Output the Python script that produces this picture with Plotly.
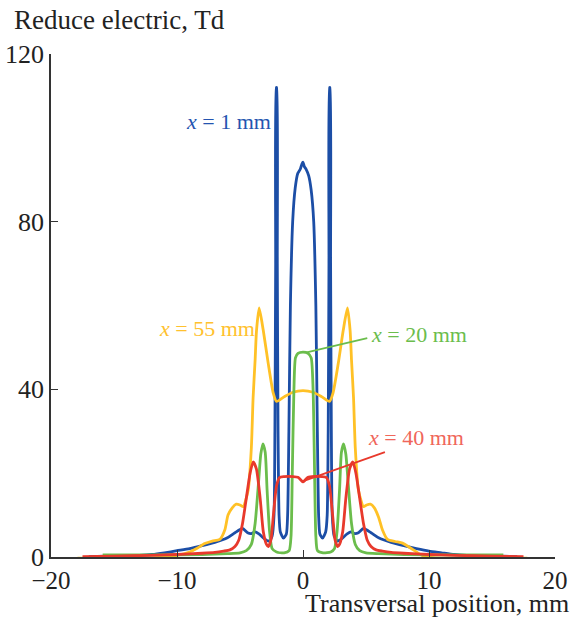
import plotly.graph_objects as go

# ---- data ----
x1 = [-17.0, -15.0, -13.0, -12.0, -11.0, -10.0, -9.0, -8.0, -7.0, -6.0, -5.4, -4.8, -4.4, -4.1, -3.8, -3.5,
      -3.0, -2.7, -2.45, -2.3, -2.23, -2.17, -2.12, -2.09, -2.04, -1.98, -1.9, -1.8, -1.55, -1.32, -1.22,
      -1.12, -1.0, -0.82, -0.62, -0.42, -0.22, -0.08, 0.0, 0.1, 0.25, 0.45, 0.65, 0.85, 1.02, 1.14, 1.24,
      1.34, 1.55, 1.8, 1.92, 2.0, 2.06, 2.11, 2.14, 2.19, 2.25, 2.32, 2.47, 2.75, 3.0, 3.5, 3.8, 4.1, 4.4,
      4.8, 5.4, 6.0, 7.0, 8.0, 9.0, 10.0, 11.0, 12.0, 13.0, 15.0, 17.0]
y1 = [0.1, 0.25, 0.4, 0.6, 1.0, 1.5, 2.0, 2.7, 3.5, 4.6, 5.8, 6.8, 5.8, 5.6, 6.0, 5.5,
      4.2, 3.8, 5.0, 10.0, 30.0, 70.0, 112.0, 112.0, 70.0, 30.0, 10.0, 6.0, 4.5, 5.5, 10.0,
      30.0, 60.0, 80.0, 88.0, 91.5, 92.5, 93.8, 94.2, 93.2, 92.5, 91.0, 87.5, 80.0, 60.0, 30.0, 10.0,
      5.5, 4.5, 6.0, 10.0, 30.0, 70.0, 112.0, 112.0, 70.0, 30.0, 10.0, 5.0, 3.8, 4.2, 5.5, 6.0, 5.6, 5.8,
      6.8, 5.8, 4.6, 3.5, 2.7, 2.0, 1.4, 1.0, 0.6, 0.4, 0.25, 0.1]

x20 = [-15.9, -12.0, -8.0, -6.0, -5.0, -4.5, -4.1, -3.8, -3.55, -3.35, -3.18, -3.0, -2.85, -2.65, -2.45,
       -2.1, -1.5, -1.1, -0.95, -0.85, -0.72, -0.6, -0.4, 0.0, 0.4, 0.65, 0.8, 0.92, 1.02, 1.15,
       1.6, 2.2, 2.5, 2.7, 2.9, 3.05, 3.22, 3.4, 3.6, 3.85, 4.15, 4.5, 5.0, 6.0, 8.0, 12.0, 15.9]
y20 = [0.5, 0.5, 0.6, 0.8, 1.0, 1.5, 3.0, 8.0, 17.0, 24.5, 27.0, 25.0, 16.0, 6.0, 2.0,
       1.2, 1.0, 1.5, 5.0, 20.0, 40.0, 47.5, 48.6, 48.9, 48.6, 47.5, 40.0, 20.0, 5.0, 1.5,
       1.0, 1.2, 2.0, 6.0, 16.0, 25.0, 27.0, 24.5, 17.0, 8.0, 3.0, 1.5, 1.0, 0.8, 0.6, 0.5, 0.5]

x40 = [-17.5, -15.0, -12.0, -10.0, -8.0, -7.0, -6.3, -5.8, -5.4, -5.1, -4.8, -4.5, -4.2, -3.95, -3.7,
       -3.4, -3.15, -2.9, -2.75, -2.55, -2.35, -2.1, -1.85, -1.5, -0.8, -0.4, -0.15, 0.0, 0.15, 0.4,
       0.9, 1.5, 1.85, 2.1, 2.35, 2.55, 2.75, 2.9, 3.15, 3.4, 3.7, 3.95, 4.2, 4.5, 4.8, 5.1, 5.4,
       5.8, 6.3, 7.0, 8.0, 10.0, 12.0, 15.0, 17.5]
y40 = [0.1, 0.2, 0.4, 0.6, 0.9, 1.1, 1.4, 1.7, 2.5, 4.0, 8.0, 14.0, 20.0, 22.7, 21.0,
       14.0, 6.0, 3.0, 2.5, 4.0, 10.0, 17.0, 19.0, 19.2, 19.2, 19.0, 18.3, 17.9, 18.3, 19.0,
       19.2, 19.2, 19.0, 17.0, 10.0, 4.0, 2.5, 3.0, 6.0, 14.0, 21.0, 22.7, 20.0, 14.0, 8.0, 4.0, 2.5,
       1.7, 1.4, 1.1, 0.9, 0.6, 0.4, 0.2, 0.1]

x55 = [-17.9, -14.0, -12.0, -11.0, -10.0, -9.0, -8.4, -7.8, -7.2, -6.6, -6.2, -5.95, -5.6, -5.3, -5.0,
       -4.75, -4.35, -4.1, -3.96, -3.8, -3.69, -3.48, -3.16, -2.76, -2.36, -2.1, -1.5, -0.8, 0.0,
       0.8, 1.5, 2.1, 2.38, 2.8, 3.2, 3.53, 3.74, 3.85, 4.01, 4.15, 4.4, 4.8, 5.05, 5.35, 5.65, 6.0,
       6.3, 6.7, 7.3, 7.9, 8.5, 9.0, 9.5, 10.5, 12.0, 17.8]
y55 = [-0.3, -0.3, -0.2, 0.0, 0.4, 1.2, 2.1, 3.2, 3.8, 4.2, 6.5, 10.0, 11.8, 12.6, 12.4,
       12.0, 16.0, 26.0, 38.0, 47.0, 54.0, 59.4, 54.2, 46.2, 39.1, 37.1, 38.2, 39.3, 39.7,
       39.3, 38.2, 37.1, 39.1, 46.2, 54.2, 59.4, 54.0, 47.0, 38.0, 26.0, 16.0, 12.0, 12.4, 12.6, 11.8, 9.5,
       6.5, 4.2, 3.7, 3.3, 2.2, 1.2, 0.3, -0.2, -0.3, -0.3]

x_ticks = [-20, -10, 0, 10, 20]
x_tick_text = ["\u221220", "\u221210", "0", "10", "20"]
y_ticks = [0, 40, 80, 120]

labels = ["<i>x</i> = 1 mm", "<i>x</i> = 55 mm", "<i>x</i> = 20 mm", "<i>x</i> = 40 mm"]
label_x = [-5.95, -7.6, 9.2, 9.0]
label_y = [104.0, 54.4, 53.0, 28.6]
green_leader_x = [0.3, 5.1]
green_leader_y = [48.8, 52.2]
red_leader_x = [0.02, 6.5]
red_leader_y = [18.1, 25.0]

# ---- styling ----
BLUE = "#1c4ea6"
GREEN = "#6bbd4c"
YELLOW = "#ffc126"
RED = "#e8392c"
FONT = "Liberation Serif, Times New Roman, serif"
TXT = "#222222"

fig = go.Figure()
for xs, ys, col in [(x1, y1, BLUE), (x55, y55, YELLOW), (x20, y20, GREEN), (x40, y40, RED)]:
    fig.add_trace(go.Scatter(x=xs, y=ys, mode="lines",
                             line=dict(color=col, width=2.8, shape="spline", smoothing=0.6),
                             showlegend=False, hoverinfo="skip"))

# leader lines
fig.add_trace(go.Scatter(x=green_leader_x, y=green_leader_y, mode="lines",
                         line=dict(color=GREEN, width=1.8), showlegend=False, hoverinfo="skip"))
fig.add_trace(go.Scatter(x=red_leader_x, y=red_leader_y, mode="lines",
                         line=dict(color=RED, width=1.8), showlegend=False, hoverinfo="skip"))

label_colors = ["#2454b0", "#ffc12e", "#6bbd4c", "#f0665a"]
for t, lx, ly, c in zip(labels, label_x, label_y, label_colors):
    fig.add_annotation(x=lx, y=ly, xref="x", yref="y", text=t, showarrow=False,
                       font=dict(family=FONT, size=22, color=c), xanchor="center", yanchor="middle")

fig.add_annotation(x=-0.077, y=1.0676, xref="paper", yref="paper", text="Reduce electric, Td",
                   showarrow=False, xanchor="left", yanchor="middle",
                   font=dict(family=FONT, size=27, color=TXT))
fig.add_annotation(x=1.03, y=-0.1233, xref="paper", yref="paper", text="Transversal position, mm",
                   showarrow=False, xanchor="right", yanchor="bottom", borderpad=0,
                   font=dict(family=FONT, size=26, color=TXT))

fig.update_layout(
    width=573, height=618,
    margin=dict(l=51, r=18, t=54, b=61),
    paper_bgcolor="white", plot_bgcolor="white",
    font=dict(family=FONT, size=27, color=TXT),
    showlegend=False,
)
fig.update_xaxes(range=[-20, 20], tickvals=x_ticks, ticktext=x_tick_text, automargin=False,
                 ticks="inside", ticklen=7, tickwidth=1.3, tickcolor="#333333",
                 showline=True, linecolor="#333333", linewidth=1.5,
                 showgrid=False, zeroline=False, tickfont=dict(family=FONT, size=25, color=TXT))
fig.update_yaxes(range=[0, 120], tickvals=y_ticks, automargin=False,
                 ticks="inside", ticklen=7, tickwidth=1.3, tickcolor="#333333",
                 showline=True, linecolor="#333333", linewidth=1.5,
                 showgrid=False, zeroline=False, tickfont=dict(family=FONT, size=26, color=TXT))

fig.write_html("out.html")
